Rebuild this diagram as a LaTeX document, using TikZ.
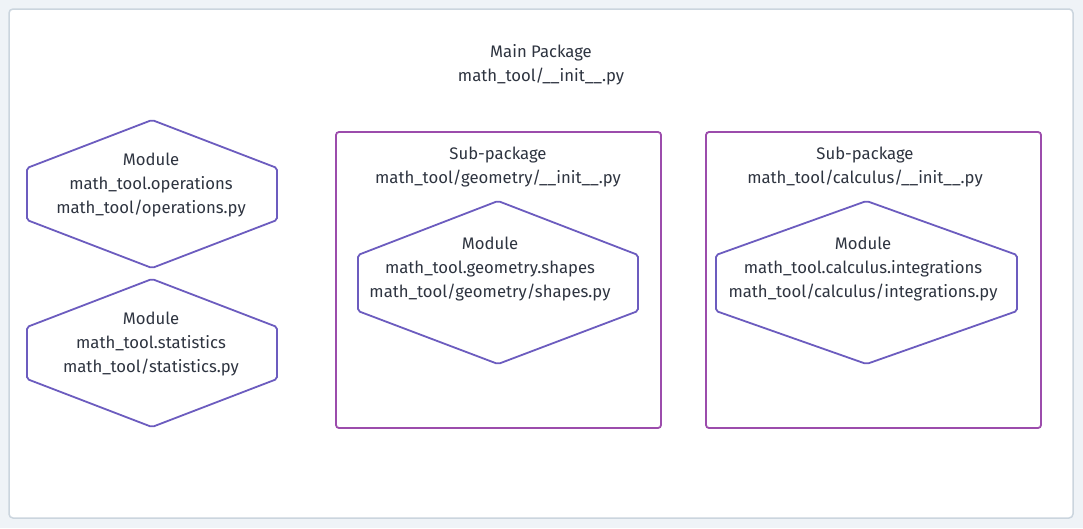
\documentclass[tikz,border=0pt]{standalone}
\usepackage{fontspec}
\setmainfont{Fira Sans}
\definecolor{bgc}{HTML}{EFF3F7}
\definecolor{outerb}{HTML}{CBD5DE}
\definecolor{hexc}{HTML}{6C5CBF}
\definecolor{boxc}{HTML}{9C4CAC}
\definecolor{txt}{HTML}{2E3440}
\begin{document}
\begin{tikzpicture}[x=1pt,y=-1pt,
  lbl/.style={text=txt,align=center,inner sep=0pt,font=\fontsize{16.7}{24}\selectfont},
  hexline/.style={draw=hexc,line width=1.8pt,rounded corners=2pt,fill=white},
  pkgbox/.style={draw=boxc,line width=1.8pt,rounded corners=3pt,fill=white},
  outerbox/.style={draw=outerb,line width=1.5pt,rounded corners=4pt,fill=white}]
\useasboundingbox (0,0) rectangle (1083,528);
\fill[bgc] (0,0) rectangle (1083,528);
\draw[outerbox] (9,9) rectangle (1073,518);
\node[lbl] (main) at (541,65) {Main Package\\math\_tool/\_\_init\_\_.py};
% left hexagons
\draw[hexline] (152,120) -- (277,168) -- (277,220) -- (152,268) -- (27,220) -- (27,168) -- cycle;
\node[lbl] (ops) at (151,185) {Module\\math\_tool.operations\\math\_tool/operations.py};
\draw[hexline] (152,279) -- (277,327) -- (277,379) -- (152,427) -- (27,379) -- (27,327) -- cycle;
\node[lbl] (stats) at (151,344) {Module\\math\_tool.statistics\\math\_tool/statistics.py};
% geometry sub-package
\draw[pkgbox] (336,132) rectangle (661,428);
\node[lbl] (geo) at (498,167) {Sub-package\\math\_tool/geometry/\_\_init\_\_.py};
\draw[hexline] (498,201) -- (638,255) -- (638,311) -- (498,364) -- (358,311) -- (358,255) -- cycle;
\node[lbl] (shapes) at (490,269) {Module\\math\_tool.geometry.shapes\\math\_tool/geometry/shapes.py};
% calculus sub-package
\draw[pkgbox] (706,132) rectangle (1041,428);
\node[lbl] (calc) at (865,167) {Sub-package\\math\_tool/calculus/\_\_init\_\_.py};
\draw[hexline] (866.5,201) -- (1017,255) -- (1017,311) -- (866.5,364) -- (716,311) -- (716,255) -- cycle;
\node[lbl] (integ) at (863,269) {Module\\math\_tool.calculus.integrations\\math\_tool/calculus/integrations.py};
\end{tikzpicture}
\end{document}
